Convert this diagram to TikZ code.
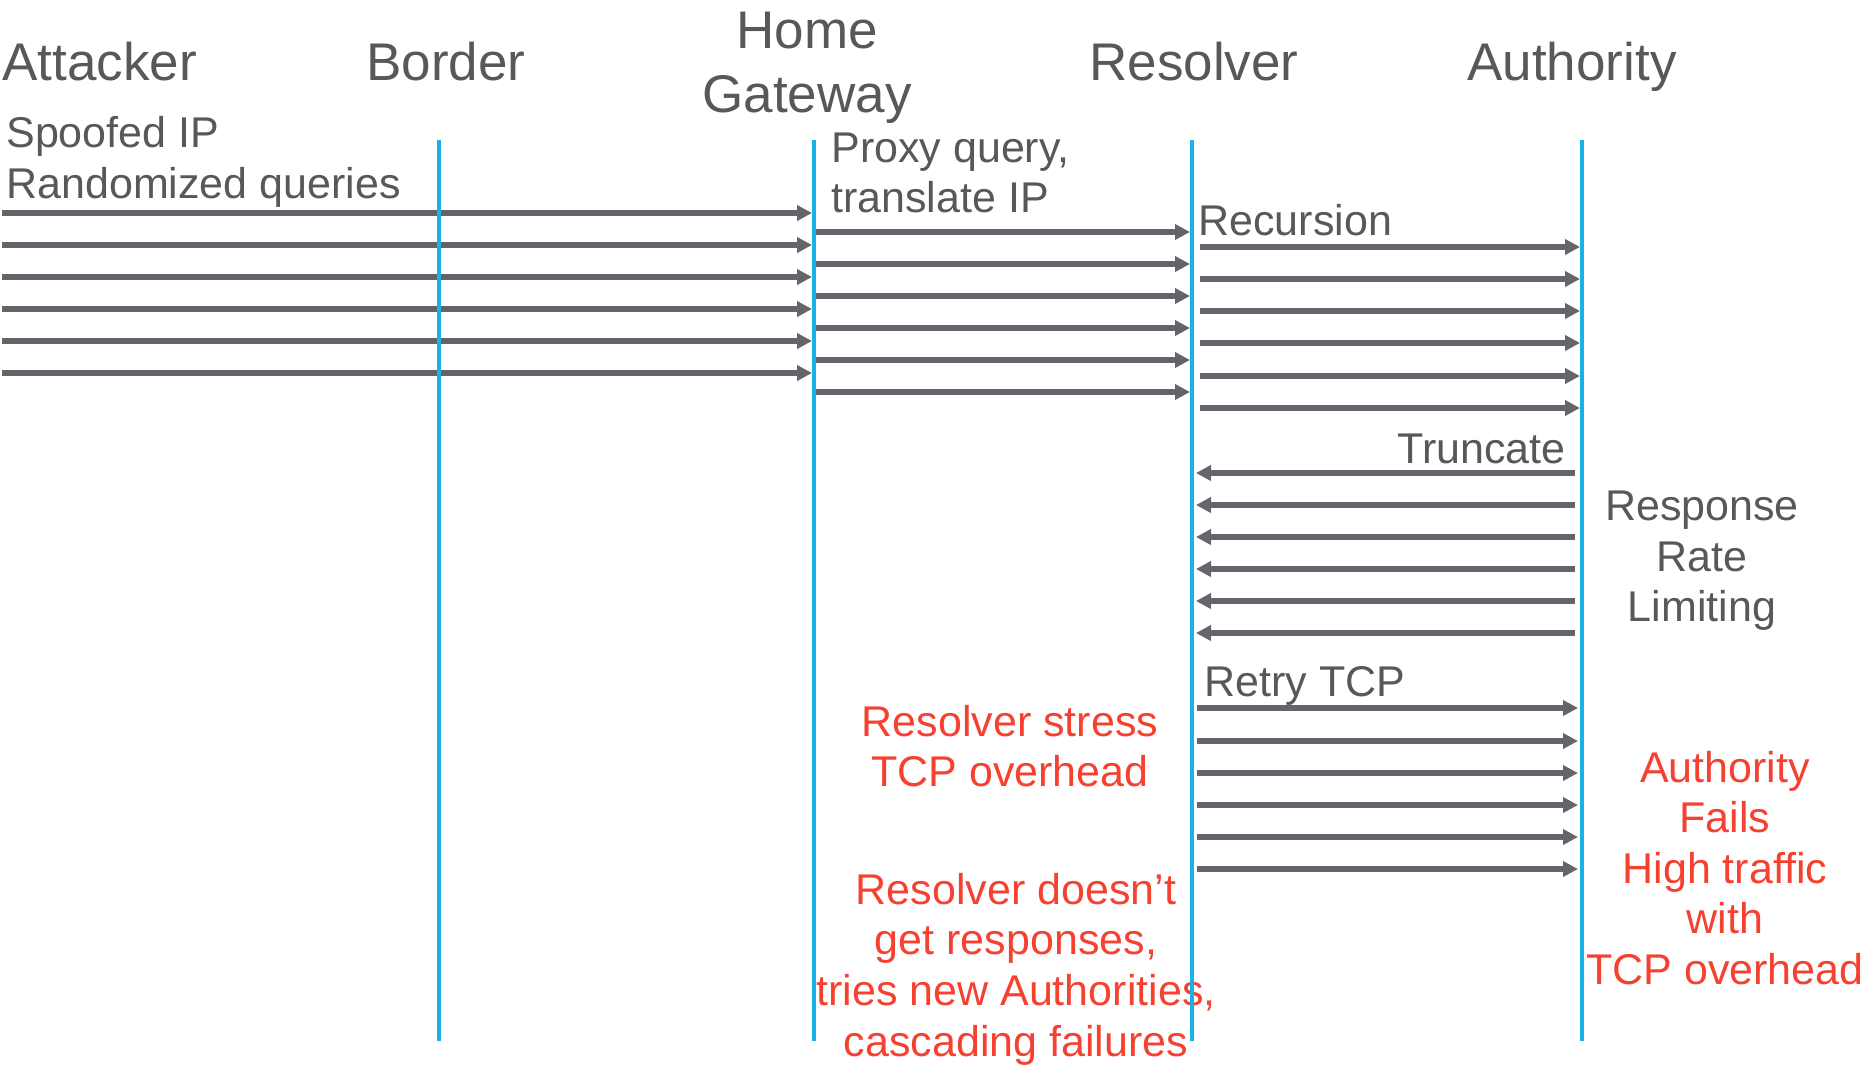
\documentclass[tikz,border=0pt]{standalone}
\usepackage{fontspec}
\setmainfont{Liberation Sans}
\usetikzlibrary{arrows.meta}

\definecolor{txtgray}{RGB}{88,88,92}
\definecolor{msggray}{RGB}{100,100,106}
\definecolor{lifeblue}{RGB}{26,178,228}
\definecolor{warnred}{RGB}{246,64,48}

\tikzset{
  lifeline/.style={draw=lifeblue, line width=2.3pt},
  msg/.style={draw=msggray, line width=2.9pt, -{Triangle[length=7.5pt,width=7.5pt]}},
  head/.style={font=\fontsize{26.5}{32}\selectfont, text=txtgray, inner sep=0pt, align=center},
  note/.style={font=\fontsize{21.5}{25.3}\selectfont, text=txtgray, inner sep=0pt},
  warn/.style={font=\fontsize{21.5}{25.3}\selectfont, text=warnred, inner sep=0pt, align=center}
}

\begin{document}
\begin{tikzpicture}[x=0.5pt,y=-0.5pt]
  \useasboundingbox (0,0) rectangle (1864,1067);
  % lifelines
  \coordinate (bdtop) at (439,140);   \coordinate (bdbot) at (439,1041);
  \coordinate (gwtop) at (814,140);   \coordinate (gwbot) at (814,1041);
  \coordinate (restop) at (1192,140); \coordinate (resbot) at (1192,1041);
  \coordinate (authtop) at (1582,140); \coordinate (authbot) at (1582,1041);
  % headers
  \node [head, anchor=west] (attacker) at (2,62) {Attacker};
  \node [head] (border) at (446,62) {Border};
  \node [head] (gateway) at (807,68) {Home\\Gateway};
  \node [head] (resolver) at (1194,62) {Resolver};
  \node [head] (authority) at (1572,67) {Authority};
  % notes
  \node [note, anchor=west, align=left] (spoof) at (6,162) {Spoofed IP\\Randomized queries};
  \node [note, anchor=west, align=left] (proxy) at (831,173) {Proxy query,\\translate IP};
  \node [note, anchor=west] (recursion) at (1198,220) {Recursion};
  \node [note, anchor=east] (truncate) at (1566,449) {Truncate};
  \node [note, align=center] (rrl) at (1702,561) {Response\\Rate\\Limiting};
  \node [note, anchor=west] (retry) at (1204,686) {Retry TCP};
  \node [warn] (stress) at (1010,746) {Resolver stress\\TCP overhead};
  \node [warn] (cascade) at (1016,969) {Resolver doesn’t\\get responses,\\tries new Authorities,\\cascading failures};
  \node [warn] (fails) at (1725,868) {Authority\\Fails\\High traffic\\with\\TCP overhead};
  % attacker -> gateway
  \foreach \y in {213,245,277,309,341,373} {
    \coordinate (q) at (2,\y);
    \draw [msg, shorten >=1pt] (q) -- (q -| gwtop);
  }
  % gateway -> resolver
  \foreach \y in {232,264,296,328,360,392} {
    \coordinate (q) at (816,\y);
    \draw [msg, shorten >=1pt] (q) -- (q -| restop);
  }
  % resolver -> authority
  \foreach \y in {247,279,311,343,376,408} {
    \coordinate (q) at (1200,\y);
    \draw [msg, shorten >=1pt] (q) -- (q -| authtop);
  }
  % authority -> resolver
  \foreach \y in {473,505,537,569,601,633} {
    \coordinate (q) at (1575,\y);
    \draw [msg, shorten >=2pt] (q) -- (q -| restop);
  }
  % retry tcp
  \foreach \y in {708,741,773,805,837,869} {
    \coordinate (q) at (1197,\y);
    \draw [msg, shorten >=2pt] (q) -- (q -| authtop);
  }
  % lifelines on top
  \draw [lifeline] (bdtop) -- (bdbot);
  \draw [lifeline] (gwtop) -- (gwbot);
  \draw [lifeline] (restop) -- (resbot);
  \draw [lifeline] (authtop) -- (authbot);
\end{tikzpicture}
\end{document}
